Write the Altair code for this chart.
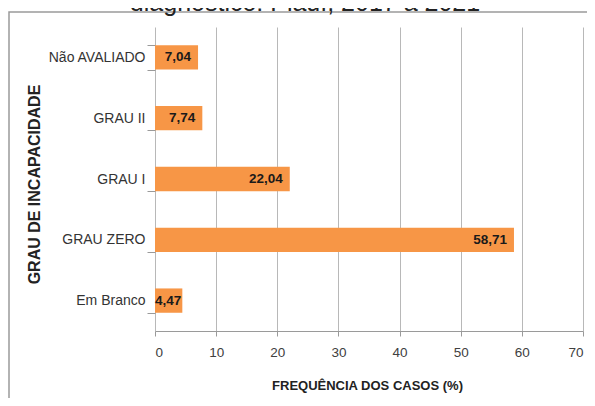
import altair as alt
import pandas as pd

categories = ["Não AVALIADO", "GRAU II", "GRAU I", "GRAU ZERO", "Em Branco"]
values = [7.04, 7.74, 22.04, 58.71, 4.47]
labels = ["7,04", "7,74", "22,04", "58,71", "4,47"]
x_ticks = [0, 10, 20, 30, 40, 50, 60, 70]
caption = "diagnóstico: Piauí, 2017 a 2021"

df = pd.DataFrame({"cat": categories, "val": values, "lab": labels})
one = pd.DataFrame({"t": [caption]})

SANS = "Liberation Sans, Arial, sans-serif"

x_enc = alt.X(
    "val:Q",
    scale=alt.Scale(domain=[0, 70], nice=False, zero=True),
    axis=alt.Axis(
        values=x_ticks, grid=True, gridColor="#b8b8b8", gridWidth=1,
        domainColor="#9a9a9a", tickColor="#9a9a9a", tickSize=5,
        labelFont=SANS, labelFontSize=13.5, labelColor="#404040", labelPadding=9,
        title="FREQUÊNCIA DOS CASOS (%)", titleFont=SANS, titleFontSize=13,
        titleFontWeight="bold", titleColor="#222222",
        titleX=212, titleY=54, titleAlign="center", titleBaseline="middle",
    ),
)
y_enc = alt.Y(
    "cat:N", sort=categories,
    scale=alt.Scale(paddingInner=0.6, paddingOuter=0.3),
    axis=alt.Axis(
        domain=False, tickBand="extent", tickSize=8, tickColor="#9a9a9a",
        labelPadding=2, labelFont=SANS, labelFontSize=14, labelColor="#333333",
        title="GRAU DE INCAPACIDADE", titleFont=SANS, titleFontSize=16,
        titleFontWeight="bold", titleColor="#222222", titleAngle=270,
        titleX=-121, titleY=157, titleAlign="center", titleBaseline="middle",
    ),
)

border = alt.Chart(one).mark_rect(fillOpacity=0, stroke="#9a9a9a", strokeWidth=1.5).encode(
    x=alt.value(-146), x2=alt.value(700), y=alt.value(-15), y2=alt.value(700)
)
title = alt.Chart(one).mark_text(
    font=SANS, fontSize=25, color="#222222", align="center", baseline="alphabetic"
).encode(x=alt.value(150), y=alt.value(-16), text="t:N")

bars = alt.Chart(df).mark_bar(color="#F79646").encode(x=x_enc, y=y_enc)

lab_big = alt.Chart(df).transform_filter("datum.val > 5").mark_text(
    font=SANS, fontSize=13.5, fontWeight="bold", color="#1a1a1a",
    align="right", baseline="middle", dx=-7
).encode(x="val:Q", y=alt.Y("cat:N", sort=categories), text="lab:N")

lab_small = alt.Chart(df).transform_filter("datum.val <= 5").mark_text(
    font=SANS, fontSize=13.5, fontWeight="bold", color="#1a1a1a",
    align="right", baseline="middle", dx=-1
).encode(x="val:Q", y=alt.Y("cat:N", sort=categories), text="lab:N")

chart = alt.layer(border, title, bars, lab_big, lab_small).properties(
    width=428, height=304,
    autosize=alt.AutoSizeParams(type="none"),
    padding={"left": 147, "top": 19, "right": 4, "bottom": 67},
).configure_view(stroke=None)

chart.save("out.html", embed_options={"renderer": "svg", "actions": False})
